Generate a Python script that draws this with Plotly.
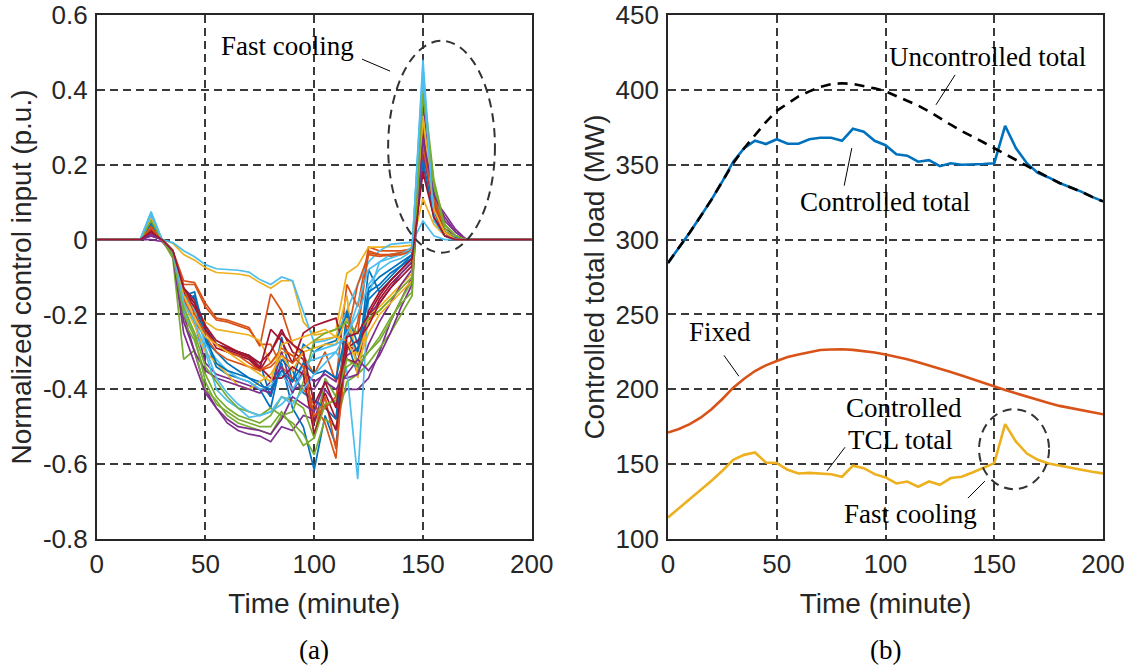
import plotly.graph_objects as go
from plotly.subplots import make_subplots

# ---------------- data ----------------
time_min = [0, 5, 10, 15, 20, 25, 30, 35, 40, 45, 50, 55, 60, 65, 70, 75, 80, 85, 90, 95, 100,
            105, 110, 115, 120, 125, 130, 135, 140, 145, 150, 155, 160, 165, 170, 175, 180, 185, 190, 195, 200]

# (a) normalized control inputs of individual TCL groups (p.u.)
u01 = [0, 0, 0, 0, 0, 0.04, 0.0, -0.03, -0.15, -0.18, -0.27, -0.30, -0.33, -0.35, -0.37, -0.38, -0.42, -0.33, -0.45, -0.50, -0.615, -0.47, -0.55, -0.27, -0.36, -0.13, -0.10, -0.08, -0.06, -0.04, 0.22, 0.12, 0.02, 0.005, 0, 0, 0, 0, 0, 0, 0]
u02 = [0, 0, 0, 0, 0, 0.03, -0.005, -0.03, -0.11, -0.115, -0.17, -0.21, -0.215, -0.225, -0.235, -0.285, -0.145, -0.19, -0.28, -0.31, -0.36, -0.30, -0.38, -0.12, -0.18, -0.02, -0.03, -0.03, -0.03, -0.025, 0.28, 0.10, 0.02, 0.0, 0, 0, 0, 0, 0, 0, 0]
u03 = [0, 0, 0, 0, 0, 0.05, 0.0, -0.01, -0.04, -0.055, -0.075, -0.088, -0.09, -0.092, -0.097, -0.115, -0.13, -0.11, -0.11, -0.22, -0.255, -0.25, -0.24, -0.09, -0.07, -0.02, -0.02, -0.02, -0.018, -0.015, 0.11, 0.04, 0.01, 0.0, 0, 0, 0, 0, 0, 0, 0]
u04 = [0, 0, 0, 0, 0, 0.0, -0.005, -0.04, -0.20, -0.30, -0.40, -0.45, -0.49, -0.51, -0.52, -0.525, -0.54, -0.50, -0.51, -0.47, -0.48, -0.40, -0.44, -0.40, -0.40, -0.37, -0.30, -0.22, -0.16, -0.10, 0.30, 0.11, 0.07, 0.027, 0, 0, 0, 0, 0, 0, 0]
u05 = [0, 0, 0, 0, 0, 0.05, 0.0, -0.05, -0.32, -0.295, -0.40, -0.43, -0.47, -0.49, -0.50, -0.51, -0.52, -0.47, -0.49, -0.52, -0.575, -0.48, -0.50, -0.38, -0.36, -0.33, -0.29, -0.25, -0.20, -0.15, 0.38, 0.15, 0.04, 0.01, 0, 0, 0, 0, 0, 0, 0]
u06 = [0, 0, 0, 0, 0, 0.075, 0.0, -0.008, -0.03, -0.046, -0.067, -0.078, -0.08, -0.082, -0.087, -0.107, -0.12, -0.10, -0.11, -0.19, -0.275, -0.27, -0.26, -0.19, -0.12, -0.06, -0.03, -0.013, -0.011, -0.007, 0.05, 0.01, 0.0, 0.0, 0, 0, 0, 0, 0, 0, 0]
u07 = [0, 0, 0, 0, 0, 0.02, 0.0, -0.03, -0.14, -0.17, -0.24, -0.29, -0.30, -0.31, -0.32, -0.35, -0.30, -0.24, -0.30, -0.32, -0.49, -0.41, -0.48, -0.28, -0.30, -0.22, -0.16, -0.12, -0.09, -0.06, 0.20, 0.07, 0.01, 0.0, 0, 0, 0, 0, 0, 0, 0]
u08 = [0, 0, 0, 0, 0, 0.03, 0.0, -0.03, -0.13, -0.16, -0.23, -0.28, -0.29, -0.30, -0.31, -0.33, -0.42, -0.26, -0.38, -0.28, -0.30, -0.28, -0.27, -0.20, -0.34, -0.08, -0.14, -0.11, -0.08, -0.05, 0.25, 0.08, 0.01, 0.0, 0, 0, 0, 0, 0, 0, 0]
u09 = [0, 0, 0, 0, 0, 0.03, 0.0, -0.04, -0.12, -0.12, -0.18, -0.215, -0.22, -0.23, -0.24, -0.28, -0.28, -0.34, -0.37, -0.40, -0.44, -0.49, -0.585, -0.23, -0.25, -0.03, -0.04, -0.045, -0.04, -0.03, 0.27, 0.12, 0.02, 0.0, 0, 0, 0, 0, 0, 0, 0]
u10 = [0, 0, 0, 0, 0, 0.06, 0.0, -0.03, -0.14, -0.19, -0.22, -0.24, -0.245, -0.25, -0.255, -0.27, -0.33, -0.30, -0.31, -0.29, -0.27, -0.265, -0.26, -0.15, -0.37, -0.20, -0.18, -0.15, -0.12, -0.09, 0.24, 0.08, 0.02, 0.0, 0, 0, 0, 0, 0, 0, 0]
u11 = [0, 0, 0, 0, 0, 0.01, 0.0, -0.03, -0.16, -0.22, -0.33, -0.36, -0.37, -0.38, -0.39, -0.40, -0.41, -0.30, -0.40, -0.39, -0.40, -0.35, -0.37, -0.37, -0.36, -0.28, -0.22, -0.17, -0.12, -0.08, 0.23, 0.09, 0.03, 0.01, 0, 0, 0, 0, 0, 0, 0]
u12 = [0, 0, 0, 0, 0, 0.045, 0.0, -0.04, -0.22, -0.27, -0.36, -0.42, -0.45, -0.47, -0.48, -0.49, -0.47, -0.42, -0.43, -0.45, -0.53, -0.37, -0.42, -0.34, -0.32, -0.30, -0.27, -0.22, -0.16, -0.11, 0.42, 0.16, 0.04, 0.01, 0, 0, 0, 0, 0, 0, 0]
u13 = [0, 0, 0, 0, 0, 0.07, 0.0, -0.04, -0.19, -0.25, -0.30, -0.40, -0.43, -0.45, -0.475, -0.47, -0.46, -0.44, -0.41, -0.33, -0.32, -0.31, -0.30, -0.35, -0.64, -0.15, -0.06, -0.04, -0.035, -0.03, 0.48, 0.07, 0.01, 0.0, 0, 0, 0, 0, 0, 0, 0]
u14 = [0, 0, 0, 0, 0, 0.03, 0.0, -0.03, -0.13, -0.16, -0.24, -0.28, -0.295, -0.305, -0.315, -0.345, -0.24, -0.27, -0.33, -0.25, -0.23, -0.22, -0.21, -0.32, -0.33, -0.19, -0.14, -0.11, -0.08, -0.05, 0.26, 0.08, 0.01, 0.0, 0, 0, 0, 0, 0, 0, 0]
u15 = [0, 0, 0, 0, 0, 0.035, 0.0, -0.03, -0.16, -0.15, -0.27, -0.34, -0.36, -0.37, -0.38, -0.40, -0.45, -0.32, -0.35, -0.41, -0.43, -0.45, -0.48, -0.19, -0.28, -0.16, -0.13, -0.10, -0.07, -0.05, 0.30, 0.10, 0.02, 0.0, 0, 0, 0, 0, 0, 0, 0]
u16 = [0, 0, 0, 0, 0, 0.035, 0.0, -0.03, -0.16, -0.22, -0.26, -0.30, -0.32, -0.33, -0.34, -0.35, -0.34, -0.31, -0.33, -0.30, -0.52, -0.42, -0.56, -0.30, -0.22, -0.035, -0.04, -0.04, -0.035, -0.03, 0.32, 0.11, 0.02, 0.0, 0, 0, 0, 0, 0, 0, 0]
u17 = [0, 0, 0, 0, 0, 0.06, 0.0, -0.04, -0.17, -0.23, -0.30, -0.33, -0.36, -0.39, -0.40, -0.38, -0.36, -0.31, -0.35, -0.30, -0.29, -0.28, -0.28, -0.21, -0.31, -0.22, -0.19, -0.16, -0.13, -0.10, 0.35, 0.09, 0.02, 0.0, 0, 0, 0, 0, 0, 0, 0]
u18 = [0, 0, 0, 0, 0, 0.015, 0.0, -0.03, -0.22, -0.30, -0.35, -0.37, -0.38, -0.39, -0.40, -0.41, -0.38, -0.34, -0.41, -0.35, -0.38, -0.36, -0.38, -0.31, -0.29, -0.20, -0.17, -0.13, -0.09, -0.06, 0.36, 0.13, 0.05, 0.02, 0, 0, 0, 0, 0, 0, 0]
u19 = [0, 0, 0, 0, 0, 0.05, 0.0, -0.04, -0.18, -0.25, -0.34, -0.38, -0.42, -0.45, -0.46, -0.47, -0.45, -0.47, -0.46, -0.38, -0.27, -0.25, -0.24, -0.22, -0.25, -0.21, -0.19, -0.16, -0.13, -0.10, 0.40, 0.14, 0.03, 0.0, 0, 0, 0, 0, 0, 0, 0]
u20 = [0, 0, 0, 0, 0, 0.065, 0.0, -0.03, -0.15, -0.19, -0.28, -0.32, -0.35, -0.37, -0.38, -0.40, -0.39, -0.36, -0.40, -0.36, -0.30, -0.29, -0.28, -0.26, -0.17, -0.08, -0.06, -0.05, -0.04, -0.02, 0.44, 0.06, 0.01, 0.0, 0, 0, 0, 0, 0, 0, 0]
u21 = [0, 0, 0, 0, 0, 0.025, 0.0, -0.03, -0.14, -0.18, -0.24, -0.28, -0.29, -0.30, -0.31, -0.34, -0.37, -0.37, -0.34, -0.36, -0.52, -0.44, -0.51, -0.29, -0.27, -0.23, -0.17, -0.13, -0.10, -0.07, 0.28, 0.09, 0.02, 0.0, 0, 0, 0, 0, 0, 0, 0]
u22 = [0, 0, 0, 0, 0, 0.045, 0.0, -0.03, -0.15, -0.14, -0.26, -0.33, -0.35, -0.36, -0.37, -0.39, -0.40, -0.35, -0.38, -0.33, -0.36, -0.35, -0.37, -0.24, -0.30, -0.14, -0.12, -0.09, -0.07, -0.04, 0.21, 0.06, 0.01, 0.0, 0, 0, 0, 0, 0, 0, 0]
u23 = [0, 0, 0, 0, 0, 0.03, 0.0, -0.03, -0.13, -0.20, -0.25, -0.28, -0.30, -0.31, -0.33, -0.35, -0.33, -0.29, -0.31, -0.34, -0.47, -0.45, -0.42, -0.26, -0.12, -0.04, -0.045, -0.04, -0.04, -0.03, 0.25, 0.09, 0.01, 0.0, 0, 0, 0, 0, 0, 0, 0]
u24 = [0, 0, 0, 0, 0, 0.055, 0.0, -0.04, -0.15, -0.21, -0.26, -0.28, -0.30, -0.32, -0.34, -0.36, -0.38, -0.28, -0.27, -0.26, -0.25, -0.24, -0.26, -0.27, -0.33, -0.25, -0.20, -0.17, -0.14, -0.11, 0.33, 0.08, 0.02, 0.0, 0, 0, 0, 0, 0, 0, 0]
u25 = [0, 0, 0, 0, 0, 0.01, 0.0, -0.04, -0.25, -0.33, -0.41, -0.45, -0.48, -0.50, -0.505, -0.51, -0.52, -0.48, -0.42, -0.44, -0.46, -0.38, -0.40, -0.36, -0.32, -0.35, -0.31, -0.25, -0.18, -0.12, 0.27, 0.12, 0.06, 0.02, 0, 0, 0, 0, 0, 0, 0]
u26 = [0, 0, 0, 0, 0, 0.05, 0.0, -0.04, -0.20, -0.26, -0.38, -0.44, -0.46, -0.48, -0.49, -0.50, -0.50, -0.46, -0.50, -0.55, -0.53, -0.44, -0.43, -0.32, -0.34, -0.30, -0.26, -0.21, -0.17, -0.14, 0.39, 0.15, 0.04, 0.01, 0, 0, 0, 0, 0, 0, 0]
u27 = [0, 0, 0, 0, 0, 0.07, 0.0, -0.03, -0.17, -0.22, -0.29, -0.37, -0.41, -0.44, -0.46, -0.47, -0.46, -0.42, -0.44, -0.40, -0.36, -0.33, -0.30, -0.25, -0.20, -0.12, -0.08, -0.06, -0.05, -0.03, 0.46, 0.05, 0.01, 0.0, 0, 0, 0, 0, 0, 0, 0]
u28 = [0, 0, 0, 0, 0, 0.02, 0.0, -0.03, -0.13, -0.17, -0.23, -0.27, -0.285, -0.30, -0.31, -0.33, -0.30, -0.25, -0.28, -0.30, -0.44, -0.38, -0.45, -0.26, -0.25, -0.20, -0.15, -0.11, -0.08, -0.05, 0.18, 0.06, 0.01, 0.0, 0, 0, 0, 0, 0, 0, 0]

control_inputs = [u01, u02, u03, u04, u05, u06, u07, u08, u09, u10, u11, u12, u13, u14,
                  u15, u16, u17, u18, u19, u20, u21, u22, u23, u24, u25, u26, u27, u28]

# (b) total loads (MW)
uncontrolled_total = [284.4, 294.4, 304.7, 315.6, 326.7, 338.9, 351, 361, 370, 378.5, 386, 391, 395.6, 399, 402, 403.8, 404.4, 404, 402.7, 401, 399,
                      396, 393, 389.5, 385.6, 381, 376.7, 372.5, 369, 365, 361, 357, 353, 349, 345.5, 341.5, 337.8, 335, 332, 328.5, 325.5]
controlled_total = [284.4, 294.4, 304.7, 315.6, 326.7, 338.9, 352, 361, 366, 363.8, 367, 364, 364, 367, 368, 368, 366, 374, 372, 366, 363,
                    357, 356, 352, 353, 349, 351, 350, 350, 350.5, 351, 376, 361, 351, 344.5, 341.5, 337.8, 335, 332, 328.5, 325.5]
fixed_load = [171.1, 173.5, 176.7, 181, 186.7, 193.5, 201.1, 207, 212.2, 216, 218.9, 221.5, 223.3, 225, 226.2, 226.6, 226.7, 226.3, 225.6, 224.6, 223.3,
              221.8, 220, 218, 216, 213.8, 211.6, 209.2, 206.7, 204.3, 201.8, 199.5, 197.3, 195, 192.9, 190.8, 188.9, 187.4, 186, 184.6, 183.3]
tcl_total = [114.4, 120.4, 126.7, 132.9, 138.9, 145.6, 152.9, 156.2, 157.8, 151.1, 150.7, 146.2, 143.8, 144.2, 144, 143.3, 141.6, 148.9, 147.3, 143.3, 141.1,
             137.1, 138.4, 134.9, 138.4, 136.2, 140.7, 141.6, 144.4, 147.3, 150.7, 176.7, 165, 157.1, 152.9, 150.4, 148.9, 147.3, 146.2, 144.9, 143.8]

x_ticks = [0, 50, 100, 150, 200]
a_y_ticks = [-0.8, -0.6, -0.4, -0.2, 0, 0.2, 0.4, 0.6]
a_y_labels = ["-0.8", "-0.6", "-0.4", "-0.2", "0", "0.2", "0.4", "0.6"]
b_y_ticks = [100, 150, 200, 250, 300, 350, 400, 450]

# ---------------- style ----------------
matlab_colors = ["#0072BD", "#D95319", "#EDB120", "#7E2F8E", "#77AC30", "#4DBEEE", "#A2142F"]
SANS = "Liberation Sans, Arial, sans-serif"
SERIF = "Liberation Serif, Times New Roman, serif"
AX_COLOR = "#262626"
GRID_COLOR = "#3a3a3a"

fig = make_subplots(rows=1, cols=2)

for i, u in enumerate(control_inputs):
    fig.add_trace(go.Scatter(x=time_min, y=u, mode="lines",
                             line=dict(color=matlab_colors[i % 7], width=1.7),
                             showlegend=False), row=1, col=1)

fig.add_trace(go.Scatter(x=time_min, y=controlled_total, mode="lines",
                         line=dict(color="#0072BD", width=2.6), showlegend=False), row=1, col=2)
fig.add_trace(go.Scatter(x=time_min, y=uncontrolled_total, mode="lines",
                         line=dict(color="black", width=2.6, dash="10px,7px"), showlegend=False), row=1, col=2)
fig.add_trace(go.Scatter(x=time_min, y=fixed_load, mode="lines",
                         line=dict(color="#D95319", width=2.6), showlegend=False), row=1, col=2)
fig.add_trace(go.Scatter(x=time_min, y=tcl_total, mode="lines",
                         line=dict(color="#EDB120", width=2.6), showlegend=False), row=1, col=2)

axis_common = dict(showgrid=True, griddash="8px,5px", gridcolor=GRID_COLOR, gridwidth=1.5,
                   showline=True, mirror=True, linecolor=AX_COLOR, linewidth=1.6,
                   zeroline=False, ticks="outside", tickcolor="rgba(0,0,0,0)",
                   automargin=False,
                   tickfont=dict(family=SANS, size=26, color=AX_COLOR))

fig.update_xaxes(**axis_common, range=[0, 200], tickvals=x_ticks, ticklen=1,
                 title=dict(text="Time (minute)", font=dict(family=SANS, size=28, color=AX_COLOR), standoff=15))
fig.update_yaxes(**axis_common, ticklen=2)

fig.update_yaxes(range=[-0.8, 0.6], tickvals=a_y_ticks, ticktext=a_y_labels,
                 title=dict(text="Normalized control input (p.u.)", font=dict(family=SANS, size=28, color=AX_COLOR), standoff=3),
                 row=1, col=1)
fig.update_yaxes(range=[100, 450], tickvals=b_y_ticks,
                 title=dict(text="Controlled total load (MW)", font=dict(family=SANS, size=28, color=AX_COLOR), standoff=3),
                 row=1, col=2)

fig.update_layout(
    width=1130, height=669,
    margin=dict(l=0, r=0, t=0, b=0, autoexpand=False),
    plot_bgcolor="white", paper_bgcolor="white",
    xaxis=dict(domain=[96.7 / 1130, 531.7 / 1130]),
    xaxis2=dict(domain=[668 / 1130, 1103 / 1130]),
    yaxis=dict(domain=[1 - 539 / 669, 1 - 15 / 669]),
    yaxis2=dict(domain=[1 - 539 / 669, 1 - 15 / 669]),
)

LEADER = dict(color="black", width=1)

# (a) annotations
fig.add_annotation(x=87.6, y=0.517, xref="x", yref="y", text="Fast cooling", showarrow=False,
                   font=dict(family=SERIF, size=27, color="black"))
fig.add_shape(type="line", xref="x", yref="y", x0=122, y0=0.482, x1=134.9, y1=0.45, line=LEADER)
fig.add_shape(type="circle", xref="x", yref="y", x0=134.0, x1=183.1, y0=-0.035, y1=0.531,
              line=dict(color="#333333", width=2, dash="9px,6px"))

# (b) annotations
fig.add_annotation(x=146.7, y=422, xref="x2", yref="y2", text="Uncontrolled total", showarrow=False,
                   font=dict(family=SERIF, size=27, color="black"))
fig.add_shape(type="line", xref="x2", yref="y2", x0=132, y0=410, x1=123.2, y1=390, line=LEADER)
fig.add_annotation(x=99.8, y=325.3, xref="x2", yref="y2", text="Controlled total", showarrow=False,
                   font=dict(family=SERIF, size=27, color="black"))
fig.add_shape(type="line", xref="x2", yref="y2", x0=84.5, y0=361.1, x1=81, y1=336, line=LEADER)
fig.add_annotation(x=23.9, y=238, xref="x2", yref="y2", text="Fixed", showarrow=False,
                   font=dict(family=SERIF, size=27, color="black"))
fig.add_shape(type="line", xref="x2", yref="y2", x0=25.7, y0=222.7, x1=32.6, y1=208.7, line=LEADER)
fig.add_annotation(x=108.5, y=187.3, xref="x2", yref="y2", text="Controlled", showarrow=False,
                   font=dict(family=SERIF, size=27, color="black"))
fig.add_annotation(x=106.7, y=166, xref="x2", yref="y2", text="TCL total", showarrow=False,
                   font=dict(family=SERIF, size=27, color="black"))
fig.add_shape(type="line", xref="x2", yref="y2", x0=81.4, y0=161.3, x1=73.1, y1=145.5, line=LEADER)
fig.add_annotation(x=111.7, y=116.7, xref="x2", yref="y2", text="Fast cooling", showarrow=False,
                   font=dict(family=SERIF, size=27, color="black"))
fig.add_shape(type="line", xref="x2", yref="y2", x0=145.7, y0=138.7, x1=137.9, y1=127.3, line=LEADER)
fig.add_shape(type="circle", xref="x2", yref="y2", x0=143, x1=175.2, y0=133.3, y1=186.7,
              line=dict(color="#333333", width=2, dash="9px,6px"))

# subplot labels
fig.add_annotation(x=314 / 1130, y=1 - 650 / 669, xref="paper", yref="paper", text="(a)", showarrow=False,
                   xanchor="center", yanchor="middle",
                   font=dict(family=SERIF, size=27, color="black"))
fig.add_annotation(x=885 / 1130, y=1 - 650 / 669, xref="paper", yref="paper", text="(b)", showarrow=False,
                   xanchor="center", yanchor="middle",
                   font=dict(family=SERIF, size=27, color="black"))

fig.write_html("out.html")
